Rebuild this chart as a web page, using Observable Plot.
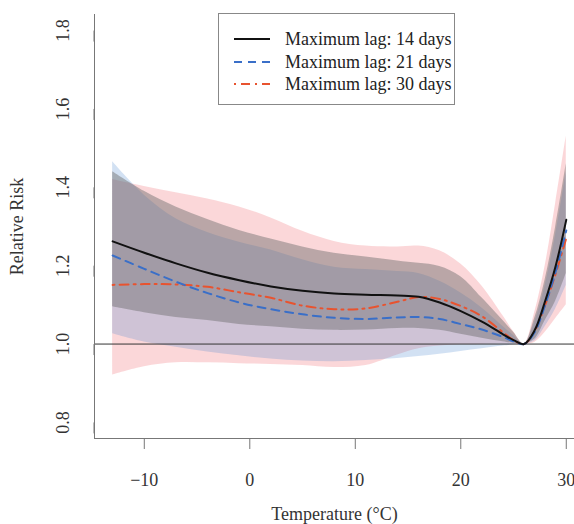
<!DOCTYPE html>
<html><head><meta charset="utf-8">
<script src="https://cdn.jsdelivr.net/npm/d3@7"></script>
<script src="https://cdn.jsdelivr.net/npm/@observablehq/plot@0.6"></script>
<style>
body{margin:0;background:#fff;}
#wrap{position:relative;width:574px;height:524px;overflow:hidden;}
#legend{position:absolute;left:218px;top:13px;width:237px;height:92px;border:1px solid #888;background:#fff;font-family:"Liberation Serif",serif;font-size:18px;color:#222;box-sizing:border-box;}
#legend .row{position:absolute;left:0;height:22px;line-height:22px;white-space:nowrap;}
#legend svg{position:absolute;left:13px;top:6px;}
#legend span{position:absolute;left:66px;top:0;}
</style></head>
<body><div id="wrap"><div id="chart"></div><div id="legend"></div></div>
<script>
const temps = [-13, -10, -7, -4, -1, 2, 5, 8, 11, 14, 16, 18, 20, 22, 24, 25, 26, 27, 28, 29, 30];
const rr14 = [1.262, 1.233, 1.206, 1.182, 1.163, 1.147, 1.136, 1.129, 1.126, 1.124, 1.121, 1.106, 1.084, 1.057, 1.025, 1.010, 1.000, 1.035, 1.110, 1.200, 1.317];
const lo14 = [1.095, 1.080, 1.068, 1.060, 1.050, 1.044, 1.038, 1.035, 1.036, 1.040, 1.040, 1.035, 1.025, 1.015, 1.006, 1.002, 1.000, 1.012, 1.060, 1.110, 1.180];
const hi14 = [1.440, 1.390, 1.350, 1.318, 1.290, 1.268, 1.248, 1.232, 1.222, 1.212, 1.206, 1.198, 1.172, 1.118, 1.060, 1.030, 1.000, 1.065, 1.165, 1.300, 1.460];
const rr21 = [1.226, 1.192, 1.159, 1.130, 1.106, 1.089, 1.076, 1.067, 1.064, 1.068, 1.069, 1.064, 1.051, 1.037, 1.018, 1.007, 1.000, 1.030, 1.100, 1.185, 1.290];
const lo21 = [1.026, 1.005, 0.992, 0.980, 0.970, 0.962, 0.957, 0.955, 0.958, 0.963, 0.968, 0.974, 0.981, 0.988, 0.995, 0.998, 1.000, 1.008, 1.045, 1.090, 1.150];
const hi21 = [1.465, 1.380, 1.320, 1.285, 1.260, 1.240, 1.215, 1.196, 1.190, 1.185, 1.180, 1.160, 1.130, 1.092, 1.045, 1.022, 1.000, 1.055, 1.150, 1.280, 1.440];
const rr30 = [1.151, 1.153, 1.152, 1.146, 1.132, 1.118, 1.098, 1.089, 1.091, 1.108, 1.120, 1.115, 1.097, 1.071, 1.030, 1.010, 1.000, 1.033, 1.100, 1.180, 1.270];
const lo30 = [0.921, 0.942, 0.952, 0.952, 0.950, 0.948, 0.945, 0.940, 0.945, 0.972, 0.988, 0.995, 0.998, 0.999, 1.000, 1.000, 1.000, 1.004, 1.030, 1.065, 1.100];
const hi30 = [1.420, 1.402, 1.386, 1.370, 1.350, 1.322, 1.288, 1.262, 1.250, 1.248, 1.250, 1.238, 1.204, 1.148, 1.072, 1.032, 1.000, 1.080, 1.200, 1.360, 1.530];
const xTicks = [-10, 0, 10, 20, 30];
const yTicks = [0.8, 1.0, 1.2, 1.4, 1.6, 1.8];
const seriesNames = ["Maximum lag: 14 days", "Maximum lag: 21 days", "Maximum lag: 30 days"];

const rows = (rr, lo, hi) => temps.map((t, i) => ({t, rr: rr[i], lo: lo[i], hi: hi[i]}));
const d14 = rows(rr14, lo14, hi14), d21 = rows(rr21, lo21, hi21), d30 = rows(rr30, lo30, hi30);
const curve = "catmull-rom";
const styles = [
  {stroke: "#111111", dash: null, width: 2},
  {stroke: "#3a6fc8", dash: "8,6", width: 2},
  {stroke: "#e8532f", dash: "2,5,9,5", width: 2}
];

const chart = Plot.plot({
  width: 574, height: 524,
  marginLeft: 94, marginRight: 0, marginTop: 14, marginBottom: 86,
  x: {domain: [-14.72, 30.78]},
  y: {domain: [0.759, 1.841]},
  style: {fontFamily: "Liberation Serif, serif", fontSize: "17.5px", color: "#333", background: "#fff", overflow: "hidden"},
  marks: [
    Plot.areaY(d30, {x: "t", y1: "lo", y2: "hi", fill: "#f06e78", fillOpacity: 0.28, curve}),
    Plot.areaY(d21, {x: "t", y1: "lo", y2: "hi", fill: "#4a86d0", fillOpacity: 0.25, curve}),
    Plot.areaY(d14, {x: "t", y1: "lo", y2: "hi", fill: "#6c6c6c", fillOpacity: 0.46, curve}),
    Plot.ruleY([1], {stroke: "#333", strokeWidth: 1}),
    Plot.lineY(d30, {x: "t", y: "rr", stroke: styles[2].stroke, strokeWidth: 2, strokeDasharray: styles[2].dash, curve}),
    Plot.lineY(d21, {x: "t", y: "rr", stroke: styles[1].stroke, strokeWidth: 2, strokeDasharray: styles[1].dash, curve}),
    Plot.lineY(d14, {x: "t", y: "rr", stroke: styles[0].stroke, strokeWidth: 2, curve}),
    Plot.frame({anchor: "left", stroke: "#777"}),
    Plot.frame({anchor: "bottom", stroke: "#777"}),
    Plot.axisX({ticks: xTicks, tickSize: 11, tickPadding: 24, stroke: "#777",
      tickFormat: d => d < 0 ? "\u2212" + Math.abs(d) : String(d),
      label: "Temperature (°C)", labelAnchor: "center", labelArrow: "none", labelOffset: 81, fontSize: 18}),
    Plot.axisY({ticks: yTicks, tickSize: 11, tickPadding: 20, stroke: "#777",
      tickFormat: d3.format(".1f"), rotate: -90, textAnchor: "middle",
      label: "Relative Risk", labelAnchor: "center", labelArrow: "none", labelOffset: 84, fontSize: 18})
  ]
});
document.getElementById("chart").appendChild(chart);

const legend = document.getElementById("legend");
seriesNames.forEach((name, i) => {
  const row = document.createElement("div");
  row.className = "row";
  row.style.top = [14, 37, 59][i] + "px";
  row.style.width = "236px";
  const s = styles[i];
  row.innerHTML = `<svg width="40" height="10"><line x1="2" x2="38" y1="5" y2="5" stroke="${s.stroke}" stroke-width="2" ${s.dash ? `stroke-dasharray="${s.dash}"` : ""}/></svg><span>${name}</span>`;
  legend.appendChild(row);
});
</script>
</body></html>
